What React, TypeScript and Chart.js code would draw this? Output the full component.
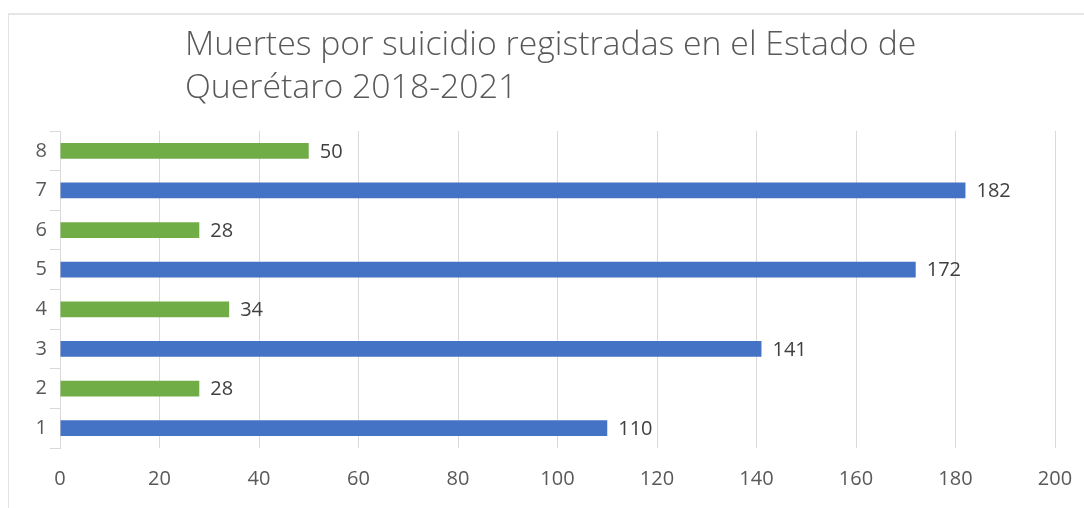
import React, { useEffect, useRef } from "react";
import { Chart, registerables } from "chart.js";

Chart.register(...registerables);

const categories = ["1", "2", "3", "4", "5", "6", "7", "8"];
const values = [110, 28, 141, 34, 172, 28, 182, 50];
const barColors = ["#4472C4", "#70AD47", "#4472C4", "#70AD47", "#4472C4", "#70AD47", "#4472C4", "#70AD47"];
const titleLines = ["Muertes por suicidio registradas en el Estado de", "Querétaro 2018-2021"];

const FONT = "'Open Sans', 'Liberation Sans', sans-serif";

const framePlugin = {
  id: "frame",
  beforeDraw(chart: any) {
    const ctx = chart.ctx;
    ctx.save();
    ctx.fillStyle = "#ffffff";
    ctx.fillRect(0, 0, chart.width, chart.height);
    ctx.strokeStyle = "#e6e6e6";
    ctx.lineWidth = 2;
    ctx.beginPath();
    ctx.moveTo(8, 14);
    ctx.lineTo(chart.width, 14);
    ctx.stroke();
    ctx.lineWidth = 1;
    ctx.strokeStyle = "#e3e3e3";
    ctx.beginPath();
    ctx.moveTo(8.5, 14);
    ctx.lineTo(8.5, chart.height);
    ctx.stroke();
    ctx.restore();
  },
};

const titlePlugin = {
  id: "customTitle",
  afterDraw(chart: any) {
    const ctx = chart.ctx;
    ctx.save();
    ctx.fillStyle = "#595959";
    ctx.font = `300 33.8px ${FONT}`;
    ctx.textAlign = "left";
    ctx.textBaseline = "alphabetic";
    ctx.fillText(titleLines[0], 185, 55);
    ctx.fillText(titleLines[1], 185, 98);
    ctx.restore();
  },
};

const valueLabelPlugin = {
  id: "valueLabels",
  afterDatasetsDraw(chart: any) {
    const ctx = chart.ctx;
    const meta = chart.getDatasetMeta(0);
    ctx.save();
    ctx.fillStyle = "#404040";
    ctx.font = `20px ${FONT}`;
    ctx.textAlign = "left";
    ctx.textBaseline = "middle";
    meta.data.forEach((bar: any, i: number) => {
      ctx.fillText(String(values[i]), bar.x + 11, bar.y + 1);
    });
    ctx.restore();
  },
};

export default function App() {
  const canvasRef = useRef<HTMLCanvasElement | null>(null);

  useEffect(() => {
    document.body.style.margin = "0";
    const canvas = canvasRef.current;
    if (!canvas) return;
    const chart = new Chart(canvas, {
      type: "bar",
      data: {
        labels: categories,
        datasets: [
          {
            data: values,
            backgroundColor: barColors,
            borderWidth: 0,
            categoryPercentage: 1,
            barPercentage: 0.4,
          },
        ],
      },
      options: {
        indexAxis: "y",
        animation: false,
        responsive: false,
        maintainAspectRatio: false,
        layout: { padding: { top: 131, right: 29, bottom: 0, left: 0 } },
        plugins: {
          legend: { display: false },
          title: { display: false },
          tooltip: { enabled: false },
        },
        scales: {
          x: {
            min: 0,
            max: 200,
            ticks: {
              stepSize: 20,
              color: "#595959",
              font: { family: FONT, size: 20 },
              padding: 19,
            },
            grid: { color: "#d9d9d9", lineWidth: 1, drawTicks: false },
            border: { display: false },
            afterFit(scale: any) {
              scale.height = 60;
              scale.paddingRight = 0;
              scale.paddingLeft = 0;
            },
          },
          y: {
            reverse: true,
            ticks: {
              color: "#595959",
              font: { family: FONT, size: 20 },
              padding: 3,
            },
            grid: {
              drawOnChartArea: false,
              drawTicks: true,
              tickLength: 10,
              color: "#d9d9d9",
              offset: true,
            },
            border: { display: true, color: "#d9d9d9" },
            afterFit(scale: any) {
              scale.width = 60;
            },
          },
        },
      },
      plugins: [framePlugin, titlePlugin, valueLabelPlugin],
    });
    return () => chart.destroy();
  }, []);

  return (
    <div style={{ position: "absolute", left: 0, top: 0, width: 1084, height: 508 }}>
      <canvas ref={canvasRef} width={1084} height={508} style={{ display: "block" }} />
    </div>
  );
}
